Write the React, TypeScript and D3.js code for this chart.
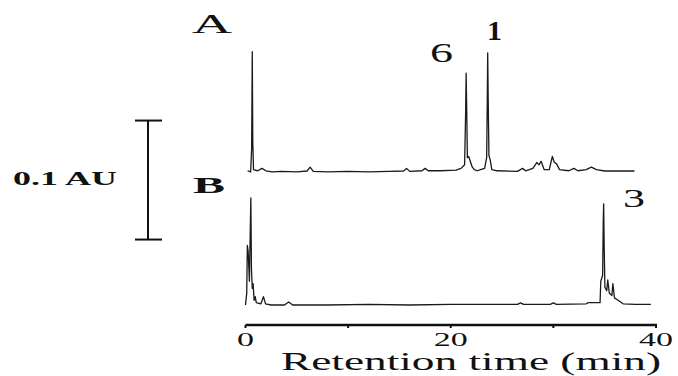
import React from "react";
import * as d3 from "d3";

// Chromatogram A: [retention time (min), absorbance above baseline (AU)]
const traceA: [number, number][] = [
  [0.2, 0.001], [0.5, 0.0], [0.6, 0.02], [0.66, 0.101], [0.71, 0.025], [0.78, 0.002],
  [1.2, 0.001], [1.6, 0.003], [2.0, 0.001], [2.6, 0.0], [3.5, 0.0005], [5.0, 0.0],
  [6.0, 0.0008], [6.3, 0.004], [6.6, 0.0005], [8.0, 0.0], [10.0, 0.0005], [12.0, 0.0],
  [14.0, 0.0005], [15.4, 0.0008], [15.7, 0.003], [16.0, 0.0005], [17.2, 0.001],
  [17.5, 0.003], [17.8, 0.001], [19.0, 0.001], [20.5, 0.0015], [21.0, 0.003],
  [21.35, 0.006], [21.45, 0.05], [21.5, 0.083], [21.56, 0.05], [21.62, 0.012],
  [21.75, 0.013], [21.9, 0.009], [22.1, 0.004], [22.3, 0.002], [22.6, 0.001],
  [22.9, 0.002], [23.3, 0.003], [23.5, 0.012], [23.56, 0.06], [23.6, 0.1],
  [23.65, 0.06], [23.72, 0.014], [23.85, 0.01], [24.0, 0.002],
  [24.5, 0.001], [26.5, 0.0005], [27.0, 0.003], [27.3, 0.001], [28.0, 0.003],
  [28.4, 0.008], [28.6, 0.006], [28.8, 0.009], [29.1, 0.002], [29.6, 0.002],
  [29.9, 0.013], [30.1, 0.008], [30.3, 0.007], [30.6, 0.002], [31.5, 0.001],
  [32.0, 0.003], [32.4, 0.001], [33.2, 0.002], [33.7, 0.004], [34.2, 0.002],
  [35.0, 0.0008], [37.9, 0.0008],
];

// Chromatogram B
const traceB: [number, number][] = [
  [0.0, 0.0], [0.12, 0.01], [0.18, 0.05], [0.26, 0.045], [0.38, 0.02], [0.46, 0.06],
  [0.52, 0.09], [0.58, 0.03], [0.66, 0.014], [0.74, 0.018], [0.84, 0.004], [0.95, 0.007],
  [1.05, 0.002], [1.5, 0.001], [1.75, 0.007], [1.95, 0.001], [2.5, 0.0], [3.8, 0.0],
  [4.2, 0.0025], [4.6, 0.0], [8.0, 0.0], [12.0, 0.0005], [16.0, 0.0], [20.0, 0.0005],
  [24.0, 0.0005], [26.5, 0.0005], [26.8, 0.0018], [27.1, 0.0005], [29.7, 0.0005],
  [30.0, 0.0018], [30.3, 0.0005], [33.2, 0.001], [33.4, 0.002], [34.55, 0.002],
  [34.62, 0.02], [34.8, 0.025], [34.86, 0.07], [34.9, 0.085], [34.95, 0.05],
  [35.02, 0.015], [35.2, 0.012], [35.3, 0.021], [35.45, 0.01], [35.7, 0.008],
  [35.8, 0.018], [35.95, 0.006], [36.3, 0.004], [36.8, 0.001], [38.0, 0.0005],
  [39.5, 0.0005],
];

const traceOffsets = [0.1118, 0.0]; // AU offset of A and B baselines
const traceNames = ["A", "B"];
const peakLabels = ["6", "1", "3"];
const xTicks = [0, 10, 20, 30, 40];
const xTickLabels = ["0", "", "20", "", "40"];
const scaleBar = [0.055, 0.155]; // 0.1 AU
const scaleBarLabel = "0.1 AU";
const xTitle = "Retention time (min)";

const FONT = "'Liberation Serif', 'DejaVu Serif', serif";

export default function App() {
  const x = d3.scaleLinear().domain([0, 40]).range([245.5, 656]);
  const y = d3.scaleLinear().domain([0, 0.25]).range([305, 7.5]);

  const lineFor = (off: number) =>
    d3
      .line<[number, number]>()
      .x((d) => x(d[0]))
      .y((d) => y(d[1] + off));

  const axisY = 325;

  return (
    <svg
      width={678}
      height={376}
      style={{ position: "absolute", left: 0, top: 0, background: "#fff" }}
    >
      <rect width={678} height={376} fill="#fff" />
      {/* traces */}
      <path d={lineFor(traceOffsets[0])(traceA) || ""} fill="none" stroke="#1a1a1a" strokeWidth={1.3} strokeLinejoin="round" />
      <path d={lineFor(traceOffsets[1])(traceB) || ""} fill="none" stroke="#1a1a1a" strokeWidth={1.3} strokeLinejoin="round" />

      {/* trace labels */}
      <text x={192} y={33} fontFamily={FONT} fontSize={28} textLength={40} lengthAdjust="spacingAndGlyphs" fill="#111">
        {traceNames[0]}
      </text>
      <text x={193} y={193} fontFamily={FONT} fontSize={24} fontWeight="bold" textLength={32} lengthAdjust="spacingAndGlyphs" fill="#111">
        {traceNames[1]}
      </text>

      {/* peak labels */}
      <text x={430} y={62} fontFamily={FONT} fontSize={28} textLength={23} lengthAdjust="spacingAndGlyphs" fill="#111">
        {peakLabels[0]}
      </text>
      <text x={487} y={40} fontFamily={FONT} fontSize={28} fontWeight="bold" textLength={15} lengthAdjust="spacingAndGlyphs" fill="#111">
        {peakLabels[1]}
      </text>
      <text x={623} y={207} fontFamily={FONT} fontSize={26} textLength={22} lengthAdjust="spacingAndGlyphs" fill="#111">
        {peakLabels[2]}
      </text>

      {/* scale bar */}
      <g stroke="#111" strokeWidth={2}>
        <line x1={148} x2={148} y1={y(scaleBar[0])} y2={y(scaleBar[1])} />
        <line x1={135} x2={162} y1={y(scaleBar[0])} y2={y(scaleBar[0])} />
        <line x1={135} x2={162} y1={y(scaleBar[1])} y2={y(scaleBar[1])} />
      </g>
      <text x={13} y={185} fontFamily={FONT} fontSize={18} fontWeight="bold" textLength={104} lengthAdjust="spacingAndGlyphs" fill="#111">
        {scaleBarLabel}
      </text>

      {/* x axis */}
      <line x1={x(0)} x2={x(40) + 1} y1={axisY} y2={axisY} stroke="#111" strokeWidth={2.5} />
      {xTicks.map((t, i) => (
        <g key={t}>
          <line x1={x(t)} x2={x(t)} y1={axisY} y2={axisY + 3} stroke="#111" strokeWidth={2} />
          {xTickLabels[i] && (
            <text
              x={x(t)}
              y={346}
              textAnchor="middle"
              fontFamily={FONT}
              fontSize={19}
              textLength={xTickLabels[i].length * 17}
              lengthAdjust="spacingAndGlyphs"
              fill="#111"
            >
              {xTickLabels[i]}
            </text>
          )}
        </g>
      ))}
      <text x={281} y={370} fontFamily={FONT} fontSize={25} textLength={380} lengthAdjust="spacingAndGlyphs" fill="#111">
        {xTitle}
      </text>
    </svg>
  );
}
